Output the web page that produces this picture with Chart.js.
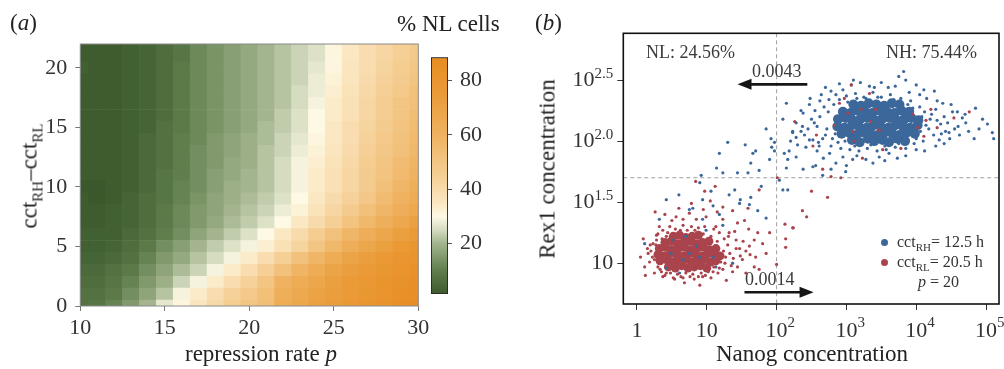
<!DOCTYPE html>
<html>
<head>
<meta charset="utf-8">
<title>NL cells / Nanog-Rex1</title>
<script src="https://cdn.jsdelivr.net/npm/chart.js@4.4.1/dist/chart.umd.min.js"></script>
<style>
  body { margin: 0; background: #fff; }
  #wrap { position: relative; width: 1004px; height: 369px; overflow: hidden;
          font-family: 'Liberation Serif', 'Times New Roman', serif; color: #222; }
  #wrap canvas { position: absolute; left: 0; top: 0; }
  .txt { position: absolute; white-space: nowrap; line-height: 1; }
  .rot { transform: translate(-50%, -50%) rotate(-90deg); }
  .note { font-size: 18px; color: #3a3a3a; }
  .leg { font-size: 16px; color: #333; }
  .leg sub { font-size: 11px; vertical-align: -4px; line-height: 0; }
  .ttl sub { font-size: 15px; vertical-align: -6px; line-height: 0; }
  .dot { position: absolute; width: 7px; height: 7px; border-radius: 50%; }
</style>
</head>
<body>
<div id="wrap">
  <canvas id="heatCanvas" width="1004" height="369"></canvas>
  <canvas id="barCanvas" width="1004" height="369"></canvas>
  <canvas id="scatterCanvas" width="1004" height="369"></canvas>

  <div class="txt" style="left:10px; top:11px; font-size:23px;">(<i>a</i>)</div>
  <div class="txt" style="left:397px; top:12px; font-size:23px;">% NL cells</div>
  <div class="txt ttl rot" style="left:29px; top:176px; font-size:23px;">cct<sub>RH</sub>–cct<sub>RL</sub></div>
  <div class="txt" style="left:261px; top:342px; font-size:23px; transform:translateX(-50%);">repression rate <i>p</i></div>

  <div class="txt" style="left:535px; top:11px; font-size:23px;">(<i>b</i>)</div>
  <div class="txt rot" style="left:547px; top:169px; font-size:23px;">Rex1 concentration</div>
  <div class="txt" style="left:812px; top:342px; font-size:23px; transform:translateX(-50%);">Nanog concentration</div>

  <div class="txt note" style="left:646px; top:43px;">NL: 24.56%</div>
  <div class="txt note" style="left:886px; top:43px;">NH: 75.44%</div>
  <div class="txt note" style="left:752px; top:62px;">0.0043</div>
  <div class="txt note" style="left:745px; top:270px;">0.0014</div>

  <div class="dot" style="left:881px; top:239px; background:#3b679b;"></div>
  <div class="txt leg" style="left:897px; top:234px;">cct<sub>RH</sub>= 12.5 h</div>
  <div class="dot" style="left:881px; top:259px; background:#a9444d;"></div>
  <div class="txt leg" style="left:897px; top:254px;">cct<sub>RL</sub>= 20.5 h</div>
  <div class="txt leg" style="left:918px; top:274px;"><i>p</i> = 20</div>
</div>

<script>
// ---- panel (a): % NL cells ----
var pValues = [10, 11, 12, 13, 14, 15, 16, 17, 18, 19, 20, 21, 22, 23, 24, 25, 26, 27, 28, 29, 30];
var cctDiff = [0, 1, 2, 3, 4, 5, 6, 7, 8, 9, 10, 11, 12, 13, 14, 15, 16, 17, 18, 19, 20, 21, 22];
// one row per cctDiff value (bottom row first), one column per p
var nlPercent = [
    [7, 8, 11, 15, 20, 27, 31, 36, 41, 46, 50, 54, 64, 67, 71, 74, 77, 80, 83, 85, 87],
    [7, 7, 9, 13, 17, 22, 29, 34, 39, 44, 48, 53, 62, 66, 70, 73, 76, 79, 82, 84, 86],
    [6, 6, 8, 11, 15, 19, 24, 29, 34, 39, 44, 50, 60, 64, 68, 72, 75, 78, 81, 83, 85],
    [5, 5, 7, 9, 13, 17, 21, 24, 29, 34, 39, 45, 52, 59, 64, 69, 73, 76, 79, 82, 84],
    [4, 4, 5, 7, 11, 15, 18, 22, 25, 29, 34, 39, 45, 52, 58, 64, 69, 73, 77, 80, 82],
    [3, 3, 4, 6, 9, 13, 16, 20, 23, 26, 29, 33, 38, 43, 50, 57, 63, 68, 72, 77, 80],
    [3, 3, 3, 5, 7, 10, 13, 17, 20, 23, 26, 30, 35, 40, 46, 52, 58, 63, 68, 72, 76],
    [2, 2, 3, 4, 6, 9, 12, 15, 18, 21, 23, 26, 30, 35, 40, 45, 51, 57, 62, 67, 71],
    [2, 2, 3, 4, 6, 9, 12, 15, 17, 20, 22, 24, 28, 32, 37, 42, 47, 53, 58, 63, 67],
    [2, 1, 2, 4, 6, 8, 11, 14, 17, 19, 21, 23, 26, 30, 35, 40, 44, 49, 55, 60, 64],
    [1, 1, 2, 3, 5, 8, 11, 13, 16, 19, 20, 22, 25, 29, 34, 38, 42, 47, 53, 58, 62],
    [2, 2, 2, 3, 5, 8, 10, 13, 16, 18, 20, 22, 25, 29, 34, 38, 42, 47, 51, 56, 60],
    [2, 2, 2, 3, 5, 7, 10, 13, 15, 18, 19, 22, 25, 29, 33, 37, 41, 46, 50, 55, 59],
    [2, 2, 2, 3, 5, 7, 10, 13, 15, 17, 19, 22, 24, 28, 32, 36, 40, 45, 49, 53, 57],
    [2, 2, 2, 3, 5, 7, 10, 12, 15, 17, 19, 21, 24, 27, 31, 35, 39, 44, 48, 52, 56],
    [2, 2, 2, 3, 4, 7, 9, 12, 14, 16, 18, 21, 23, 26, 30, 35, 39, 43, 47, 51, 55],
    [2, 2, 2, 3, 4, 6, 9, 12, 14, 16, 18, 20, 23, 26, 30, 34, 38, 42, 46, 50, 54],
    [2, 2, 2, 3, 4, 6, 9, 12, 14, 16, 18, 20, 22, 25, 29, 34, 38, 42, 46, 50, 53],
    [2, 2, 2, 3, 4, 6, 9, 12, 14, 16, 18, 20, 22, 25, 28, 33, 37, 41, 45, 48, 52],
    [2, 2, 2, 3, 4, 6, 9, 12, 14, 16, 18, 20, 22, 24, 28, 32, 36, 40, 44, 47, 50],
    [3, 2, 2, 3, 4, 6, 9, 12, 14, 16, 18, 20, 22, 24, 27, 31, 36, 39, 43, 46, 49],
    [2, 2, 2, 3, 4, 6, 8, 12, 14, 16, 18, 20, 22, 24, 26, 31, 35, 39, 42, 45, 48],
    [2, 2, 2, 3, 4, 6, 8, 12, 14, 16, 18, 20, 22, 24, 26, 31, 35, 39, 42, 45, 47]
];
var colorbarRange = [1.4, 88.6];

// ---- panel (b): single cells, [log10 Nanog, log10 Rex1] ----
var rhDense = [
    [3.08, 2.01], [3.19, 1.99], [3.31, 2.02], [3.40, 2.00], [3.52, 2.01], [3.61, 1.99], [3.73, 2.02], [3.84, 2.00],
    [2.93, 2.06], [3.03, 2.07], [3.14, 2.05], [3.24, 2.07], [3.35, 2.06], [3.45, 2.05], [3.55, 2.07], [3.66, 2.06],
    [3.76, 2.05], [3.87, 2.07], [3.98, 2.06],
    [2.87, 2.12], [2.97, 2.11], [3.08, 2.13], [3.18, 2.12], [3.29, 2.11], [3.39, 2.13], [3.49, 2.12], [3.60, 2.11],
    [3.70, 2.13], [3.81, 2.12], [3.91, 2.11], [4.02, 2.13],
    [2.88, 2.18], [2.99, 2.19], [3.09, 2.17], [3.20, 2.18], [3.30, 2.19], [3.41, 2.17], [3.51, 2.18], [3.62, 2.19],
    [3.72, 2.17], [3.83, 2.18], [3.93, 2.19], [4.03, 2.17],
    [2.95, 2.24], [3.06, 2.23], [3.16, 2.25], [3.27, 2.24], [3.37, 2.23], [3.48, 2.25], [3.58, 2.24], [3.69, 2.23],
    [3.79, 2.25], [3.90, 2.24],
    [3.10, 2.30], [3.21, 2.29], [3.32, 2.31], [3.43, 2.30], [3.54, 2.29], [3.65, 2.31], [3.76, 2.30]
];
var rhSparse = [
    [3.82, 2.57], [3.75, 2.53], [3.85, 2.50], [3.07, 2.46], [3.20, 2.48], [3.33, 2.45], [4.00, 2.46], [4.11, 2.42],
    [4.26, 2.41], [2.64, 2.38], [2.78, 2.41], [2.47, 2.30], [2.38, 2.23], [2.28, 2.15], [2.23, 2.08], [2.35, 2.08],
    [2.14, 2.31], [2.09, 2.18], [2.52, 2.01], [2.61, 1.96], [2.76, 1.90], [2.95, 1.87], [3.09, 1.85], [3.28, 1.85],
    [3.47, 1.87], [3.61, 1.90], [3.73, 1.86], [4.38, 2.31], [4.50, 2.30], [4.59, 2.24], [4.71, 2.15], [4.85, 2.27],
    [4.95, 2.18], [5.09, 2.07], [5.11, 2.02], [4.83, 2.02], [4.47, 2.07], [4.33, 2.01], [4.28, 1.96], [4.00, 1.93],
    [2.52, 1.79], [2.66, 1.72], [2.78, 1.77], [2.99, 1.75], [2.38, 1.77], [2.14, 1.78], [2.11, 1.90], [1.97, 1.92],
    [1.92, 2.02], [1.93, 1.95], [2.16, 1.85], [2.28, 1.87],
    [2.62, 2.20], [2.68, 2.28], [2.72, 2.10], [2.66, 2.02], [2.75, 2.34], [2.80, 2.02], [2.85, 2.38], [2.78, 1.96],
    [2.92, 1.94], [3.00, 2.37], [3.05, 1.93], [3.13, 2.39], [3.18, 1.92], [3.25, 2.36], [3.30, 1.94], [3.38, 2.40],
    [3.44, 1.92], [3.50, 2.36], [3.57, 1.93], [3.63, 2.38], [3.70, 1.95], [3.78, 2.35], [3.85, 1.94], [3.92, 2.33],
    [3.97, 1.98], [4.05, 2.28], [4.10, 2.00], [4.12, 2.24], [4.18, 2.10], [4.20, 2.18], [4.25, 2.05], [4.28, 2.26],
    [4.35, 2.14], [4.40, 2.20], [4.42, 2.08], [2.58, 2.12], [2.55, 2.25], [2.50, 2.18], [2.45, 2.10], [2.40, 2.05],
    [2.60, 1.99], [4.60, 2.12], [4.66, 2.19], [4.52, 2.24], [4.48, 2.02], [3.60, 2.44], [3.40, 2.44], [3.90, 2.40],
    [2.95, 2.42], [4.15, 2.35],
    [2.70, 2.05], [2.74, 2.24], [2.82, 2.30], [2.84, 2.06], [2.90, 2.34], [2.88, 1.99], [2.98, 2.00], [3.02, 2.32],
    [3.12, 1.96], [3.15, 2.35], [3.22, 1.97], [3.28, 2.35], [3.35, 1.97], [3.45, 2.36], [3.55, 1.96], [3.68, 2.34],
    [3.75, 1.98], [3.88, 2.30], [3.95, 2.27], [4.00, 2.02], [4.06, 2.08], [4.08, 2.20], [4.14, 2.13], [4.22, 2.22],
    [4.30, 2.17], [4.36, 2.06], [4.45, 2.15], [4.55, 2.10], [4.62, 2.05], [4.70, 2.22], [2.58, 1.92], [2.67, 1.86],
    [2.85, 1.82], [3.00, 1.80], [3.15, 1.88], [3.38, 1.82], [3.55, 1.84], [3.85, 1.88], [4.12, 1.92], [2.48, 2.35],
    [2.70, 2.44], [2.90, 2.47], [3.10, 2.50], [3.50, 2.48], [3.70, 2.45], [4.05, 2.38], [4.30, 2.33], [2.35, 2.25],
    [2.42, 1.95], [2.20, 2.00], [2.30, 1.97], [2.62, 2.33], [4.40, 1.98], [4.75, 2.08], [4.90, 2.10], [5.02, 2.14],
    [0.42, 1.52], [0.60, 1.56], [0.32, 1.36], [0.75, 1.44], [0.80, 1.45], [0.92, 1.72], [0.94, 1.52], [1.06, 1.59],
    [1.14, 1.78], [1.18, 1.90], [1.23, 1.74], [1.30, 1.99], [1.32, 1.56], [1.40, 1.60], [1.44, 1.74], [1.48, 1.52],
    [1.55, 1.97], [1.59, 1.74], [1.63, 1.82], [1.66, 1.90], [1.70, 1.92], [1.75, 1.76], [1.78, 1.63], [1.85, 2.10],
    [1.90, 1.85], [1.97, 1.99], [2.04, 1.68], [2.09, 1.60], [2.16, 1.60], [2.18, 1.92], [2.23, 2.07], [2.28, 2.03],
    [2.37, 2.12], [2.47, 2.01], [2.54, 2.15], [2.56, 1.80], [1.47, 1.49], [1.61, 1.48], [1.63, 1.54], [1.85, 1.37],
    [1.73, 1.43], [0.90, 1.66], [1.09, 1.47], [1.23, 1.31], [1.18, 1.40],
    [0.51, 1.19], [0.75, 1.08], [0.66, 1.03], [0.90, 1.05], [1.09, 1.05], [1.13, 0.97], [0.99, 1.27], [0.49, 1.08],
    [0.11, 1.16], [0.94, 1.36], [0.85, 1.14], [1.37, 1.00], [0.61, 0.92], [0.70, 1.22], [0.42, 0.96]
];
var rlDense = [
    [0.45, 0.97], [0.55, 0.96], [0.64, 0.98], [0.73, 0.96], [0.82, 0.97], [0.91, 0.98], [1.00, 0.96],
    [0.33, 1.02], [0.42, 1.03], [0.51, 1.01], [0.60, 1.02], [0.69, 1.03], [0.78, 1.01], [0.87, 1.02], [0.96, 1.03],
    [1.05, 1.01], [1.13, 1.02],
    [0.30, 1.07], [0.39, 1.06], [0.48, 1.08], [0.57, 1.07], [0.66, 1.06], [0.75, 1.08], [0.84, 1.07], [0.93, 1.06],
    [1.02, 1.08], [1.11, 1.07], [1.19, 1.06],
    [0.32, 1.12], [0.41, 1.13], [0.50, 1.11], [0.59, 1.12], [0.68, 1.13], [0.77, 1.11], [0.86, 1.12], [0.95, 1.13],
    [1.04, 1.11], [1.13, 1.12],
    [0.40, 1.17], [0.49, 1.18], [0.58, 1.16], [0.67, 1.17], [0.76, 1.18], [0.85, 1.16], [0.94, 1.17], [1.03, 1.18],
    [0.52, 1.22], [0.61, 1.23], [0.70, 1.21], [0.79, 1.22], [0.88, 1.23]
];
var rlSparse = [
    [0.09, 1.20], [0.16, 1.08], [0.11, 0.97], [0.18, 1.01], [0.25, 0.92], [0.37, 0.89], [0.54, 0.87], [0.68, 0.84],
    [0.82, 0.87], [0.94, 0.89], [1.06, 0.88], [1.16, 0.92], [1.23, 0.95], [1.37, 0.93], [1.44, 0.97], [1.51, 1.03],
    [1.56, 1.10], [1.61, 1.14], [1.68, 1.19], [1.73, 1.25], [1.70, 1.05], [1.47, 1.12], [1.42, 1.19], [1.32, 1.25],
    [1.23, 1.36], [1.13, 1.30], [0.99, 1.38], [0.85, 1.36], [0.75, 1.41], [0.66, 1.36], [0.56, 1.38], [0.47, 1.30],
    [0.37, 1.27], [0.28, 1.23], [0.23, 1.16], [0.26, 1.42], [0.32, 1.30], [0.84, 1.67], [1.12, 1.63], [0.97, 1.59],
    [0.78, 1.49], [1.23, 1.46], [1.37, 1.43], [1.59, 1.45], [1.54, 1.35], [1.75, 1.60], [2.01, 1.70], [1.80, 1.16],
    [1.68, 0.97], [1.56, 0.92], [1.28, 0.86], [0.90, 0.82], [0.63, 0.89], [0.42, 0.92], [1.44, 1.33], [1.05, 1.51],
    [0.20, 1.10], [0.25, 1.03], [0.27, 1.15], [0.30, 0.97], [0.35, 0.93], [0.36, 1.20], [0.44, 1.25], [0.48, 0.92],
    [0.58, 0.91], [0.62, 1.27], [0.70, 0.92], [0.72, 1.27], [0.80, 0.91], [0.83, 1.27], [0.92, 0.92], [0.95, 1.24],
    [1.02, 0.93], [1.06, 1.22], [1.10, 0.97], [1.15, 1.18], [1.20, 1.01], [1.24, 1.10], [1.27, 1.05], [1.30, 1.15],
    [1.33, 1.08], [1.38, 1.04], [1.42, 1.12], [1.25, 1.20], [1.35, 0.98], [0.15, 1.12],
    [0.22, 1.05], [0.28, 1.19], [0.33, 0.95], [0.40, 0.90], [0.52, 0.88], [0.66, 0.88], [0.76, 0.89], [0.88, 0.89],
    [0.98, 0.90], [1.09, 0.93], [1.18, 0.96], [1.26, 1.00], [1.31, 1.22], [1.18, 1.25], [1.10, 1.28], [0.97, 1.30],
    [0.88, 1.29], [0.78, 1.30], [0.66, 1.31], [0.55, 1.28], [0.42, 1.22], [0.30, 1.24], [0.19, 1.15], [1.48, 1.06],
    [1.52, 1.18], [1.62, 1.07], [1.40, 1.26], [1.60, 1.28], [0.50, 1.35], [0.95, 1.44], [1.15, 1.42], [0.40, 1.40],
    [0.60, 1.45], [0.05, 1.05], [0.12, 0.90], [1.75, 0.95], [1.85, 1.08], [1.90, 1.25],
    [2.37, 1.43], [2.43, 1.38], [2.50, 1.59], [2.12, 1.32], [2.24, 1.29], [2.13, 1.20], [2.13, 1.13], [2.00, 0.99],
    [2.73, 1.54], [2.23, 1.29],
    [3.07, 2.46], [3.33, 2.39], [2.97, 2.35], [2.90, 2.31], [3.02, 2.23], [3.42, 2.26], [3.47, 2.09], [3.21, 2.26],
    [3.35, 2.16], [3.11, 2.00], [2.83, 2.13], [2.57, 2.05], [2.52, 1.96], [3.52, 1.93], [3.78, 1.94], [4.14, 2.17],
    [4.21, 2.26], [4.30, 2.11], [4.54, 2.19], [4.76, 2.24], [4.11, 2.04], [4.02, 2.11], [3.95, 2.22], [3.09, 2.08],
    [2.26, 2.16], [2.66, 1.77], [2.78, 1.71], [2.92, 1.70], [3.23, 1.86]
];
var nanogTicks = [0, 1, 2, 3, 4, 5];
var rex1Ticks = [1, 1.5, 2, 2.5];
var nanogGate = 2;     // 10^2
var rex1Gate = 1.7;
var switchArrows = [
    { from: [2.44, 2.465], to: [1.44, 2.465] },
    { from: [1.54, 0.762], to: [2.53, 0.762] }
];

// ---- styling helpers ----
var serif = "'Liberation Serif', 'Times New Roman', serif";
Chart.defaults.font.family = serif;
Chart.defaults.color = '#333';

var colorStops = [
    [0, '#365427'], [10, '#5f7e4c'], [20, '#a3b48e'], [25, '#d5dcc0'], [30, '#fdf9e4'],
    [35, '#fbe7c2'], [45, '#f5cf95'], [60, '#efb260'], [75, '#ea9b38'], [90, '#e78b1f']
];

function hexRgb(h) {
    return [parseInt(h.substr(1, 2), 16), parseInt(h.substr(3, 2), 16), parseInt(h.substr(5, 2), 16)];
}

function colorFor(v) {
    for (var i = 1; i < colorStops.length; i++) {
        if (v <= colorStops[i][0] || i === colorStops.length - 1) {
            var a = colorStops[i - 1], b = colorStops[i];
            var t = Math.max(0, Math.min(1, (v - a[0]) / (b[0] - a[0])));
            var ca = hexRgb(a[1]), cb = hexRgb(b[1]);
            return 'rgb(' + ca.map(function (c, k) { return Math.round(c + (cb[k] - c) * t); }).join(',') + ')';
        }
    }
}

function framePlugin(color, width) {
    return {
        id: 'frame',
        afterDraw: function (chart) {
            var a = chart.chartArea, ctx = chart.ctx;
            ctx.save();
            ctx.strokeStyle = color;
            ctx.lineWidth = width;
            ctx.strokeRect(a.left, a.top, a.right - a.left, a.bottom - a.top);
            ctx.restore();
        }
    };
}

// ---- heatmap: one floating-bar dataset per cctDiff row ----
var heatDatasets = cctDiff.map(function (d, r) {
    return {
        data: pValues.map(function (p) { return { x: p, y: [d - 0.5, d + 0.5] }; }),
        backgroundColor: nlPercent[r].map(colorFor),
        borderWidth: 0,
        grouped: false,
        barPercentage: 1,
        categoryPercentage: 1,
        clip: 0
    };
});

new Chart(document.getElementById('heatCanvas'), {
    type: 'bar',
    data: { datasets: heatDatasets },
    options: {
        responsive: false,
        animation: false,
        events: [],
        layout: { padding: { left: 30.3, top: 44, right: 585.7, bottom: 33 } },
        plugins: { legend: { display: false }, tooltip: { enabled: false } },
        scales: {
            x: {
                type: 'linear', min: 10, max: 30, offset: false,
                grid: { offset: false, drawOnChartArea: false, tickLength: 5, color: '#777' },
                border: { display: false },
                ticks: { stepSize: 5, includeBounds: false, padding: 4, font: { size: 22 }, color: '#333' },
                afterFit: function (s) { s.height = 30; }
            },
            y: {
                type: 'linear', min: 0, max: 22,
                grid: { drawOnChartArea: false, tickLength: 5, color: '#777' },
                border: { display: false },
                ticks: { stepSize: 5, includeBounds: false, padding: 8, font: { size: 22 }, color: '#333' },
                afterFit: function (s) { s.width = 50; }
            }
        }
    },
    plugins: [framePlugin('#8a8a8a', 1)]
});

// ---- colour bar ----
new Chart(document.getElementById('barCanvas'), {
    type: 'bar',
    data: {
        labels: ['NL'],
        datasets: [{
            data: [colorbarRange],
            barPercentage: 1,
            categoryPercentage: 1,
            borderWidth: 1.2,
            borderColor: '#222',
            borderSkipped: false,
            backgroundColor: function (c) {
                var ys = c.chart.scales.y;
                if (!ys || !c.chart.chartArea) return '#e9962e';
                var g = c.chart.ctx.createLinearGradient(0, ys.getPixelForValue(0), 0, ys.getPixelForValue(90));
                colorStops.forEach(function (s) { g.addColorStop(s[0] / 90, s[1]); });
                return g;
            }
        }]
    },
    options: {
        responsive: false,
        animation: false,
        events: [],
        layout: { padding: { left: 431, top: 57.3, right: 516, bottom: 75 } },
        plugins: { legend: { display: false }, tooltip: { enabled: false } },
        scales: {
            x: { display: false },
            y: {
                position: 'right', min: colorbarRange[0], max: colorbarRange[1],
                grid: { drawOnChartArea: false, tickLength: 4, color: '#555' },
                border: { display: false },
                ticks: { stepSize: 20, includeBounds: false, padding: 8, font: { size: 22 }, color: '#333' },
                afterFit: function (s) { s.width = 40; }
            }
        }
    }
});

// ---- scatter ----
function toXY(list) {
    return list.map(function (pt) { return { x: pt[0], y: pt[1] }; });
}

var gatesAndArrows = {
    id: 'gatesAndArrows',
    beforeDatasetsDraw: function (chart) {
        var ctx = chart.ctx, a = chart.chartArea, xs = chart.scales.x, ys = chart.scales.y;
        var gx = xs.getPixelForValue(nanogGate), gy = ys.getPixelForValue(rex1Gate);
        ctx.save();
        ctx.strokeStyle = '#a0a0a0';
        ctx.lineWidth = 1;
        ctx.setLineDash([4, 3]);
        ctx.beginPath();
        ctx.moveTo(gx, a.top); ctx.lineTo(gx, a.bottom);
        ctx.moveTo(a.left, gy); ctx.lineTo(a.right, gy);
        ctx.stroke();
        ctx.restore();
    },
    afterDatasetsDraw: function (chart) {
        var ctx = chart.ctx, xs = chart.scales.x, ys = chart.scales.y;
        ctx.save();
        ctx.strokeStyle = '#161616';
        ctx.fillStyle = '#161616';
        ctx.lineWidth = 2.6;
        switchArrows.forEach(function (ar) {
            var x0 = xs.getPixelForValue(ar.from[0]), x1 = xs.getPixelForValue(ar.to[0]);
            var y = ys.getPixelForValue(ar.from[1]);
            var dir = x1 > x0 ? 1 : -1;
            ctx.beginPath();
            ctx.moveTo(x0, y); ctx.lineTo(x1 - dir * 12, y);
            ctx.stroke();
            ctx.beginPath();
            ctx.moveTo(x1, y);
            ctx.lineTo(x1 - dir * 14, y - 5.5);
            ctx.lineTo(x1 - dir * 14, y + 5.5);
            ctx.closePath();
            ctx.fill();
        });
        ctx.restore();
    }
};

var powerLabels = {
    id: 'powerLabels',
    afterDraw: function (chart) {
        var ctx = chart.ctx, a = chart.chartArea, xs = chart.scales.x, ys = chart.scales.y;
        ctx.save();
        ctx.fillStyle = '#333';
        ctx.textBaseline = 'alphabetic';
        nanogTicks.forEach(function (v) {
            var px = xs.getPixelForValue(v);
            var base = v === 0 ? '1' : '10';
            ctx.font = '22px ' + serif;
            ctx.textAlign = 'center';
            ctx.fillText(base, px, a.bottom + 33);
            if (v > 1) {
                var w = ctx.measureText(base).width;
                ctx.font = '15px ' + serif;
                ctx.textAlign = 'left';
                ctx.fillText(String(v), px + w / 2, a.bottom + 23);
            }
        });
        var right = a.left - 10;
        rex1Ticks.forEach(function (v) {
            var py = ys.getPixelForValue(v);
            ctx.textAlign = 'left';
            var sup = v === 1 ? '' : v.toFixed(1);
            ctx.font = '15px ' + serif;
            var sw = sup ? ctx.measureText(sup).width : 0;
            ctx.font = '22px ' + serif;
            var bw = ctx.measureText('10').width;
            ctx.fillText('10', right - sw - bw, py + 6);
            if (sup) {
                ctx.font = '15px ' + serif;
                ctx.fillText(sup, right - sw, py - 2);
            }
        });
        ctx.restore();
    }
};

var blue = '#3b679b', red = '#a9444d';

function cellSet(list, color, radius, order) {
    return {
        data: toXY(list),
        pointBackgroundColor: color,
        pointBorderColor: color,
        pointBorderWidth: 0,
        pointRadius: radius,
        showLine: false,
        order: order
    };
}

new Chart(document.getElementById('scatterCanvas'), {
    type: 'scatter',
    data: {
        datasets: [
            cellSet(rlSparse, red, 1.6, 1),
            cellSet(rhSparse, blue, 1.6, 2),
            cellSet(rhDense, blue, 5, 3),
            cellSet(rlDense, red, 4.5, 4)
        ]
    },
    options: {
        responsive: false,
        animation: false,
        events: [],
        layout: { padding: { left: 583.3, top: 33.3, right: 4, bottom: 35 } },
        plugins: { legend: { display: false }, tooltip: { enabled: false } },
        scales: {
            x: {
                type: 'linear', min: -0.196, max: 5.186,
                afterBuildTicks: function (s) { s.ticks = nanogTicks.map(function (v) { return { value: v }; }); },
                grid: { drawOnChartArea: false, tickLength: 6, color: '#333' },
                border: { display: false },
                ticks: { callback: function () { return ''; } },
                afterFit: function (s) { s.height = 30; }
            },
            y: {
                type: 'linear', min: 0.666, max: 2.883,
                afterBuildTicks: function (s) { s.ticks = rex1Ticks.map(function (v) { return { value: v }; }); },
                grid: { drawOnChartArea: false, tickLength: 6, color: '#333' },
                border: { display: false },
                ticks: { callback: function () { return ''; } },
                afterFit: function (s) { s.width = 40; }
            }
        }
    },
    plugins: [gatesAndArrows, powerLabels, framePlugin('#111', 1.6)]
});
</script>
</body>
</html>
